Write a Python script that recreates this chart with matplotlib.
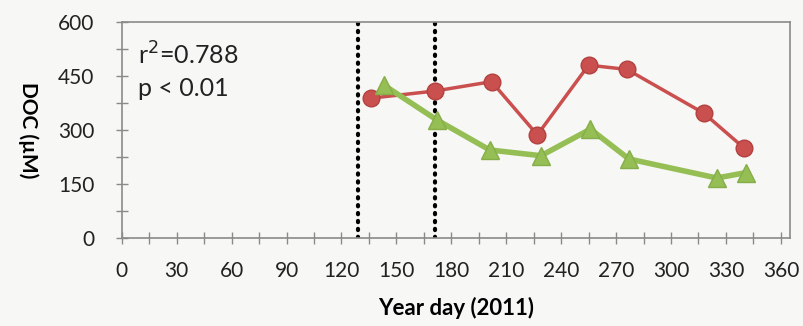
import numpy as np
import matplotlib.pyplot as plt
from matplotlib.ticker import MultipleLocator

# DOC through the 2011 season, two sites
day_red = [136, 171, 202, 227, 255, 276, 318, 340]
doc_red = [388, 408, 434, 286, 480, 468, 346, 249]
day_green = [143, 172, 201, 229, 256, 277, 325, 341]
doc_green = [425, 328, 244, 228, 302, 219, 166, 181]
event_days = [129, 171]
x_ticks = list(range(0, 361, 30))
y_ticks = [0, 150, 300, 450, 600]

RED, RED_EDGE = "#C9504F", "#B2413F"
GREEN, GREEN_EDGE = "#95BE55", "#86AE48"
AXIS = "#8a8a8a"
plt.rcParams["font.family"] = ["Lato", "DejaVu Sans"]

fig = plt.figure(figsize=(8.04, 3.26), dpi=100, facecolor="#f7f7f5")
ax = fig.add_axes([0.1514, 0.2709, 0.8312, 0.6616])
ax.set_facecolor("#f7f7f5")

for d in event_days:
    ax.plot([d, d], [0, 600], color="black", lw=3, ls=(0, (0.3, 1.6)),
            dash_capstyle="round", zorder=2)

ax.plot(day_red, doc_red, "-o", color=RED, lw=2.5, ms=12,
        mfc=RED, mec=RED_EDGE, mew=1, zorder=3)
ax.plot(day_green, doc_green, "-^", color=GREEN, lw=4, ms=13,
        mfc=GREEN, mec=GREEN_EDGE, mew=1, zorder=4)

ax.set_xlim(0, 365); ax.set_ylim(0, 600)
ax.set_xticks(x_ticks); ax.set_yticks(y_ticks)
ax.xaxis.set_minor_locator(MultipleLocator(15))
ax.yaxis.set_minor_locator(MultipleLocator(75))
ax.tick_params(which="both", direction="inout", length=9, width=1, color=AXIS,
               labelsize=15, labelcolor="#222222")
ax.tick_params(axis="x", pad=12)
ax.tick_params(axis="y", pad=15)
for s in ax.spines.values():
    s.set_color(AXIS); s.set_linewidth(1.2)

ax.set_xlabel("Year day (2011)", fontsize=16, fontweight="bold", va="center")
ax.xaxis.set_label_coords(0.5, -0.325)
ax.set_ylabel("DOC (µM)", fontsize=15, fontweight="bold", rotation=270,
              va="center")
ax.yaxis.set_label_coords(-0.14, 0.5)

ax.text(0.025, 0.845, r"r$^{2}$=0.788", transform=ax.transAxes, fontsize=18,
        va="center", color="#222222")
ax.text(0.025, 0.69, "p < 0.01", transform=ax.transAxes, fontsize=18,
        va="center", color="#222222")

fig.savefig("out.png", dpi=100, facecolor=fig.get_facecolor())
